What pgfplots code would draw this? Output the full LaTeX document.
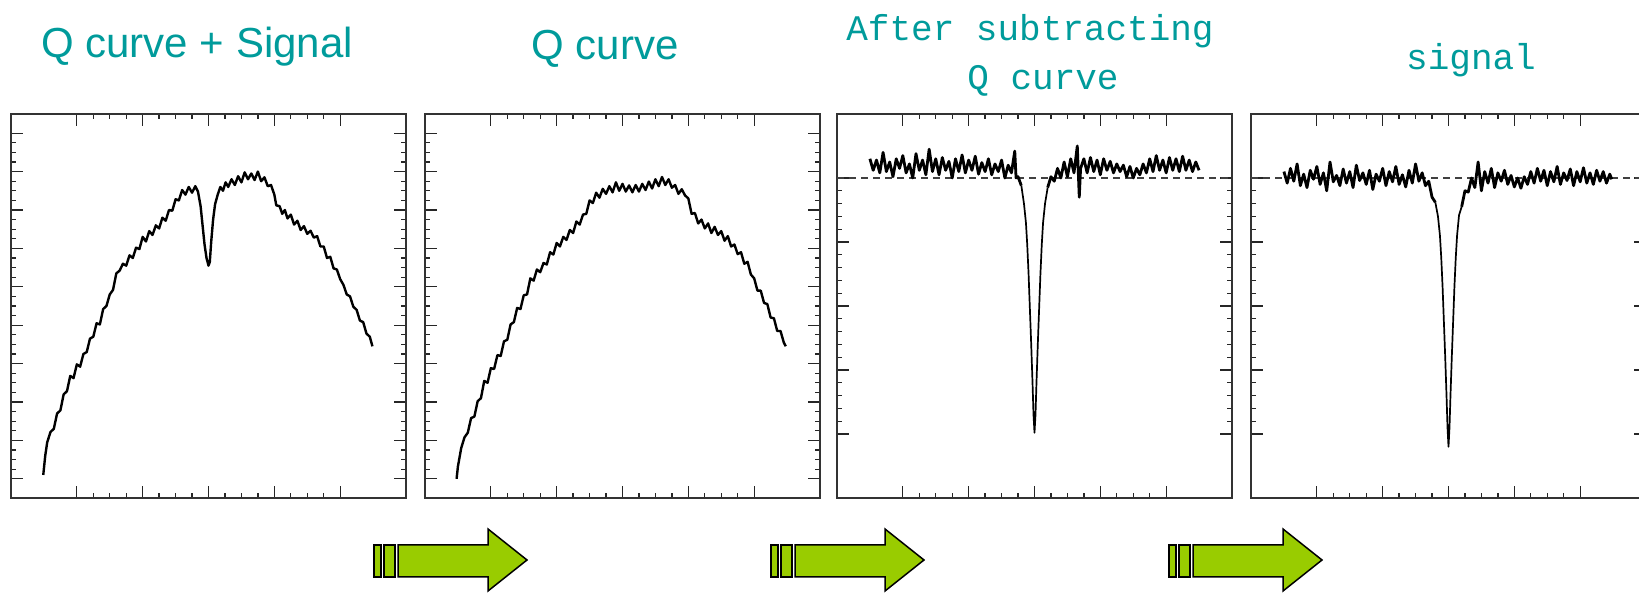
\documentclass[border=0pt]{standalone}
\usepackage{pgfplots}
\pgfplotsset{compat=1.18}
\usepackage{fontspec}
\setmainfont{Liberation Sans}
\newfontfamily\arialf{Liberation Sans}
\newfontfamily\monof{Liberation Mono}
\definecolor{titleteal}{RGB}{0,155,155}
\definecolor{arrowgreen}{RGB}{153,204,0}
\pgfplotsset{panel/.style={scale only axis, width=395pt, height=384pt,
  anchor=south west, xmin=0, xmax=6, xtick={1,2,3,4,5}, minor x tick num=3,
  xticklabels={}, yticklabels={}, tick align=inside, xtick pos=both, ytick pos=both,
  major tick length=12pt, minor tick length=5pt,
  tick style={black!85, line width=1.3pt},
  axis line style={black!80, line width=1.8pt}},
  panelQ/.style={panel, ymin=0, ymax=10, ytick={0.5,1.5,...,9.5}, minor y tick num=3},
  panelS/.style={panel, ymin=0, ymax=6, ytick={1,2,3,4,5}, minor y tick num=4},
  noisy/.style={black, line width=2.8pt, line join=round},
  dipline/.style={black, line width=1.7pt, line join=round}}
\newcommand{\greenarrow}[1]{%
  \begin{scope}[shift={(#1,0)}]
  \filldraw[fill=arrowgreen, draw=black, line width=1.5pt] (0,16) rectangle (7,48);
  \filldraw[fill=arrowgreen, draw=black, line width=1.5pt] (10,16) rectangle (21,48);
  \filldraw[fill=arrowgreen, draw=black, line width=1.5pt, line join=miter]
    (24,16) -- (114,16) -- (114,2) -- (153,33) -- (114,64) -- (114,48) -- (24,48) -- cycle;
  \end{scope}}
\begin{document}
\begin{tikzpicture}
\begin{scope}[x=1pt,y=1pt]
% titles
\node[anchor=base, text=titleteal] at (197,535) {\arialf\fontsize{42}{48}\selectfont Q curve + Signal};
\node[anchor=base, text=titleteal] at (605,533) {\arialf\fontsize{42}{48}\selectfont Q curve};
\node[anchor=base, text=titleteal] at (1030,552) {\monof\fontsize{36}{44}\selectfont After subtracting};
\node[anchor=base, text=titleteal] at (1043,503) {\monof\fontsize{36}{44}\selectfont Q curve};
\node[anchor=base, text=titleteal] at (1471,523) {\monof\fontsize{36}{44}\selectfont signal};
% arrows
\greenarrow{374}
\greenarrow{771}
\greenarrow{1169}
\end{scope}
% panel 1
\begin{axis}[panelQ, at={(11pt,95pt)}]
\addplot[black, line width=2.4pt, line join=round] coordinates {
(0.49,0.60) (0.52,1.10) (0.55,1.45) (0.60,1.72) (0.65,1.80) (0.70,2.20) (0.75,2.28) (0.80,2.70)
(0.85,2.78) (0.90,3.18) (0.95,3.12) (1.00,3.48) (1.05,3.42) (1.10,3.75) (1.15,3.80) (1.20,4.15)
(1.25,4.20) (1.30,4.55) (1.35,4.52) (1.40,4.92) (1.45,5.00) (1.50,5.30) (1.55,5.42) (1.60,5.85)
(1.65,5.92) (1.70,6.10) (1.75,6.05) (1.80,6.32) (1.85,6.25) (1.90,6.52) (1.95,6.48) (2.00,6.80)
(2.05,6.68) (2.10,6.95) (2.15,6.85) (2.20,7.10) (2.25,7.02) (2.30,7.30) (2.35,7.22) (2.40,7.50)
(2.45,7.48) (2.50,7.78) (2.55,7.75) (2.60,8.02) (2.65,7.90) (2.70,8.10) (2.75,7.95) (2.80,8.12)
(2.84,7.98) (2.88,7.60) (2.91,7.10) (2.94,6.60) (2.97,6.25) (3.00,6.05) (3.02,6.15) (3.04,6.65)
(3.07,7.25) (3.10,7.65) (3.14,7.90) (3.18,8.10) (3.22,8.00) (3.26,8.22) (3.30,8.10) (3.35,8.30)
(3.40,8.15) (3.45,8.38) (3.50,8.22) (3.55,8.48) (3.60,8.30) (3.65,8.45) (3.70,8.28) (3.75,8.50)
(3.80,8.25) (3.85,8.35) (3.90,8.12) (3.95,8.15) (4.00,7.90) (4.03,7.62) (4.08,7.60) (4.12,7.40)
(4.16,7.50) (4.20,7.28) (4.25,7.38) (4.30,7.12) (4.35,7.22) (4.40,6.98) (4.45,7.08) (4.50,6.88)
(4.55,6.96) (4.60,6.78) (4.65,6.82) (4.70,6.55) (4.75,6.55) (4.80,6.25) (4.85,6.28) (4.90,5.98)
(4.95,5.95) (5.00,5.70) (5.05,5.55) (5.10,5.30) (5.15,5.25) (5.20,4.98) (5.25,4.90) (5.30,4.62)
(5.35,4.58) (5.40,4.28) (5.45,4.20) (5.49,3.95)};
\end{axis}
% panel 2
\begin{axis}[panelQ, at={(425pt,95pt)}]
\addplot[black, line width=2.4pt, line join=round] coordinates {
(0.48,0.50) (0.50,0.82) (0.55,1.30) (0.60,1.58) (0.65,1.70) (0.70,2.08) (0.75,2.12) (0.80,2.52)
(0.85,2.60) (0.90,3.05) (0.95,3.00) (1.00,3.38) (1.05,3.36) (1.10,3.72) (1.15,3.70) (1.20,4.08)
(1.25,4.12) (1.30,4.52) (1.35,4.58) (1.40,4.95) (1.45,4.92) (1.50,5.28) (1.55,5.30) (1.60,5.72)
(1.65,5.66) (1.70,5.95) (1.75,5.88) (1.80,6.12) (1.85,6.08) (1.90,6.40) (1.95,6.34) (2.00,6.64)
(2.05,6.55) (2.10,6.80) (2.15,6.72) (2.20,6.98) (2.25,6.90) (2.30,7.20) (2.35,7.12) (2.40,7.38)
(2.45,7.40) (2.50,7.75) (2.55,7.68) (2.60,7.95) (2.65,7.82) (2.70,8.05) (2.75,7.92) (2.80,8.12)
(2.85,7.96) (2.90,8.22) (2.95,8.00) (3.00,8.18) (3.05,7.98) (3.10,8.14) (3.15,7.96) (3.20,8.15)
(3.25,7.98) (3.30,8.18) (3.35,8.02) (3.40,8.24) (3.45,8.06) (3.50,8.30) (3.55,8.12) (3.60,8.36)
(3.65,8.15) (3.70,8.30) (3.75,8.08) (3.80,8.15) (3.85,7.92) (3.90,8.04) (3.95,7.88) (4.00,7.80)
(4.05,7.40) (4.10,7.42) (4.15,7.15) (4.20,7.25) (4.25,7.02) (4.30,7.15) (4.35,6.90) (4.40,7.06)
(4.45,6.85) (4.50,6.95) (4.55,6.70) (4.60,6.82) (4.65,6.55) (4.70,6.60) (4.75,6.35) (4.80,6.40)
(4.85,6.10) (4.90,6.15) (4.95,5.82) (5.00,5.72) (5.05,5.40) (5.10,5.40) (5.15,5.08) (5.20,5.05)
(5.25,4.70) (5.30,4.68) (5.35,4.35) (5.40,4.35) (5.45,4.05) (5.48,3.95)};
\end{axis}
% panel 3
\begin{axis}[panelS, at={(837pt,95pt)}]
\addplot[black!75, line width=1.3pt, dash pattern=on 7pt off 5pt] coordinates {(0,5) (6,5)};
\addplot[noisy] coordinates {
(0.50,5.30) (0.55,5.12) (0.60,5.28) (0.65,5.08) (0.70,5.40) (0.75,5.10) (0.80,5.25) (0.85,5.02)
(0.90,5.30) (0.95,5.15) (1.00,5.35) (1.05,5.08) (1.10,5.22) (1.15,5.00) (1.20,5.38) (1.25,5.12)
(1.30,5.28) (1.35,5.05) (1.40,5.45) (1.45,5.10) (1.50,5.30) (1.55,5.05) (1.60,5.32) (1.65,5.12)
(1.70,5.26) (1.75,5.00) (1.80,5.30) (1.85,5.10) (1.90,5.36) (1.95,5.08) (2.00,5.28) (2.05,5.12)
(2.10,5.34) (2.15,5.06) (2.20,5.24) (2.25,5.10) (2.30,5.30) (2.35,5.05) (2.40,5.22) (2.45,5.10)
(2.50,5.28) (2.55,5.00) (2.60,5.20) (2.65,5.08) (2.70,5.42) (2.72,5.00) (2.75,5.02) (2.80,4.88)};
\addplot[dipline] coordinates {
(2.80,4.88) (2.84,4.60) (2.87,4.30) (2.89,3.95) (2.91,3.50) (2.93,2.95) (2.95,2.40) (2.97,1.80) (2.985,1.30)
(3.00,1.02) (3.015,1.30) (3.03,1.80) (3.05,2.40) (3.07,2.95) (3.09,3.50) (3.11,3.95) (3.13,4.30)
(3.16,4.60) (3.20,4.85)};
\addplot[noisy] coordinates {
(3.20,4.85) (3.25,5.02) (3.30,4.95) (3.35,5.15) (3.40,5.00) (3.45,5.25) (3.50,5.02)
(3.55,5.30) (3.60,5.08) (3.65,5.50) (3.68,4.70) (3.70,5.15) (3.75,5.30) (3.80,5.08) (3.85,5.32)
(3.90,5.10) (3.95,5.28) (4.00,5.05) (4.05,5.30) (4.10,5.12) (4.15,5.26) (4.20,5.08) (4.25,5.22)
(4.30,5.10) (4.35,5.20) (4.40,5.02) (4.45,5.18) (4.50,5.00) (4.55,5.15) (4.60,5.05) (4.65,5.22)
(4.70,5.08) (4.75,5.30) (4.80,5.10) (4.85,5.35) (4.90,5.12) (4.95,5.28) (5.00,5.08) (5.05,5.32)
(5.10,5.12) (5.15,5.30) (5.20,5.10) (5.25,5.34) (5.30,5.12) (5.35,5.28) (5.40,5.10) (5.45,5.25)
(5.50,5.12)};
\end{axis}
% panel 4
\begin{axis}[panelS, at={(1251pt,95pt)}]
\addplot[black!75, line width=1.3pt, dash pattern=on 7pt off 5pt] coordinates {(0,5) (6,5)};
\addplot[noisy] coordinates {
(0.50,5.10) (0.55,4.92) (0.60,5.15) (0.65,4.95) (0.70,5.22) (0.75,4.88) (0.80,5.06) (0.85,4.85)
(0.90,5.12) (0.95,4.98) (1.00,5.18) (1.05,4.90) (1.10,5.08) (1.15,4.80) (1.20,5.25) (1.25,4.94)
(1.30,5.04) (1.35,4.88) (1.40,5.14) (1.45,4.92) (1.50,5.10) (1.55,4.85) (1.60,5.20) (1.65,4.96)
(1.70,5.08) (1.75,4.90) (1.80,5.12) (1.85,4.82) (1.90,5.06) (1.95,4.95) (2.00,5.15) (2.05,4.88)
(2.10,5.10) (2.15,4.94) (2.20,5.18) (2.25,4.90) (2.30,5.05) (2.35,4.86) (2.40,5.12) (2.45,4.92)
(2.50,5.22) (2.55,4.95) (2.60,5.08) (2.65,4.88) (2.70,4.95) (2.75,4.70) (2.80,4.62)};
\addplot[dipline] coordinates {
(2.80,4.62) (2.84,4.40)
(2.87,4.10) (2.89,3.75) (2.91,3.30) (2.93,2.75) (2.95,2.20) (2.97,1.60) (2.985,1.10) (3.00,0.80)
(3.015,1.10) (3.03,1.60) (3.05,2.20) (3.07,2.75) (3.09,3.30) (3.11,3.75) (3.13,4.10) (3.16,4.42)
(3.20,4.55)};
\addplot[noisy] coordinates {
(3.20,4.55) (3.25,4.80) (3.30,4.78) (3.35,5.00) (3.40,4.85) (3.45,5.25) (3.50,4.80) (3.55,5.10)
(3.60,4.92) (3.65,5.15) (3.70,4.85) (3.75,5.08) (3.80,4.95) (3.85,5.12) (3.90,4.90) (3.95,5.04)
(4.00,4.86) (4.05,5.00) (4.10,4.84) (4.15,5.02) (4.20,4.90) (4.25,5.10) (4.30,4.92) (4.35,5.15)
(4.40,4.95) (4.45,5.12) (4.50,4.88) (4.55,5.10) (4.60,4.94) (4.65,5.18) (4.70,4.90) (4.75,5.08)
(4.80,4.96) (4.85,5.14) (4.90,4.88) (4.95,5.10) (5.00,4.94) (5.05,5.16) (5.10,4.92) (5.15,5.08)
(5.20,4.90) (5.25,5.12) (5.30,4.95) (5.35,5.10) (5.40,4.92) (5.45,5.06) (5.48,4.98)};
\end{axis}
\pgfresetboundingbox
\useasboundingbox (0pt,0pt) rectangle (1639pt,593pt);
\end{tikzpicture}
\end{document}
